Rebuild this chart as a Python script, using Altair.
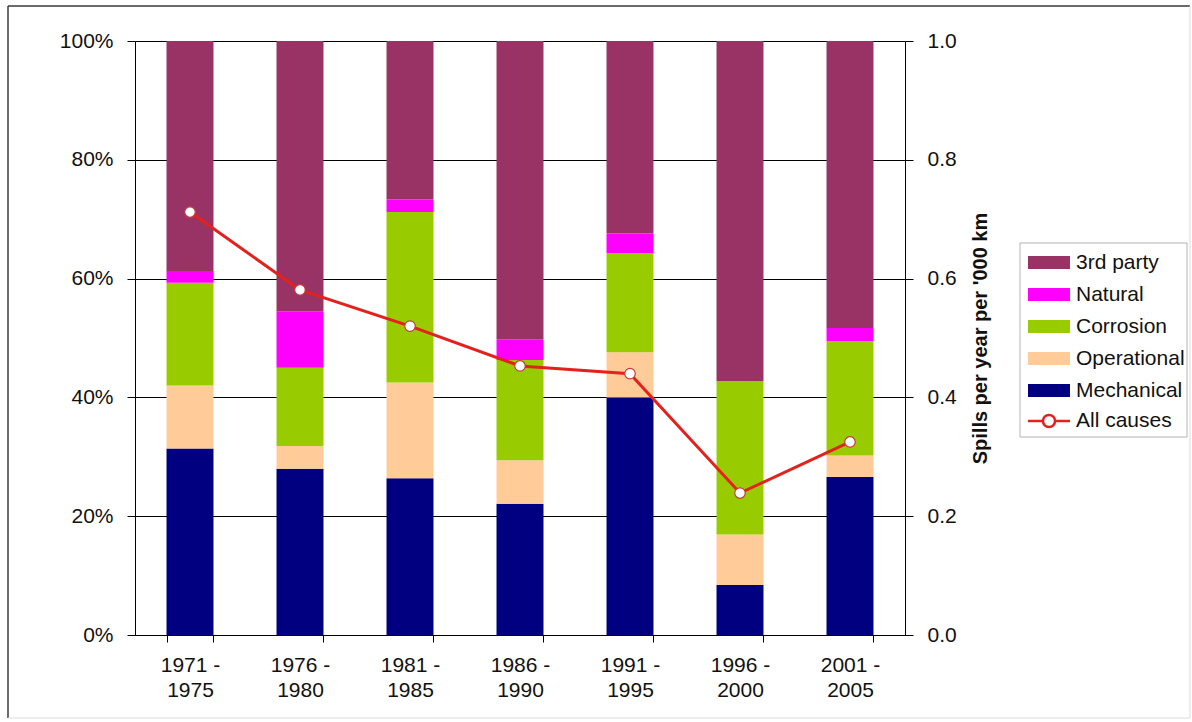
import altair as alt
import pandas as pd

# Five-year periods on the x axis
periods = ["1971 - 1975", "1976 - 1980", "1981 - 1985", "1986 - 1990",
           "1991 - 1995", "1996 - 2000", "2001 - 2005"]

# Spill causes (legend order, top of the stack first) and their colours
causes = ["3rd party", "Natural", "Corrosion", "Operational", "Mechanical"]
cause_colors = ["#993366", "#ff00ff", "#99cc00", "#ffcc99", "#000080"]

# Share of spills by cause in each period (%)
mechanical = [31.4, 28.0, 26.4, 22.1, 40.0, 8.4, 26.6]
operational = [10.6, 3.8, 16.1, 7.3, 7.6, 8.5, 3.6]
corrosion = [17.3, 13.2, 28.7, 16.9, 16.7, 25.8, 19.3]
natural = [2.0, 9.5, 2.1, 3.5, 3.3, 0.0, 2.2]
third_party = [38.7, 45.5, 26.7, 50.2, 32.4, 57.3, 48.3]

# Spill frequency for all causes (spills per year per '000 km)
all_causes = [0.712, 0.581, 0.520, 0.453, 0.440, 0.239, 0.325]

pct_ticks = [0, 20, 40, 60, 80, 100]
rate_ticks = [0.0, 0.2, 0.4, 0.6, 0.8, 1.0]

FONT = "Liberation Sans"
TEXT = "#111111"
RED = "#e3211d"

shares = {
    "Mechanical": mechanical,
    "Operational": operational,
    "Corrosion": corrosion,
    "Natural": natural,
    "3rd party": third_party,
}
stack_pos = {name: i for i, name in enumerate(["Mechanical", "Operational", "Corrosion", "Natural", "3rd party"])}

rows = []
for cause, vals in shares.items():
    for p, v in zip(periods, vals):
        rows.append({"period": p, "cause": cause, "share": v, "stack_pos": stack_pos[cause]})
bar_df = pd.DataFrame(rows)

line_df = pd.DataFrame({"period": periods, "rate": all_causes, "series": "All causes"})
one = pd.DataFrame({"k": [0]})

# Legend swatches: wide rectangle, and a line with an open circle
RECT_PATH = "M-1,-1L5.46,-1L5.46,1L-1,1Z"
LINE_PATH = ("M-1,0L1.3,0M3.16,0L5.46,0"
             "M3.16,0A0.93,0.93 0 1 1 1.3,0A0.93,0.93 0 1 1 3.16,0Z")

x_enc = alt.X(
    "period:N",
    scale=alt.Scale(domain=periods, paddingInner=0.573, paddingOuter=0.2865),
    axis=alt.Axis(
        title=None, labelAngle=0, tickBand="extent",
        labelExpr=("indexof(datum.label || '', ' - ') > 0 ? "
                   "[split(datum.label, ' - ')[0] + ' -', split(datum.label, ' - ')[1]] : ''"),
        labelFontSize=21, labelLineHeight=25, labelPadding=12, tickSize=7,
        domainColor="black", tickColor="black", labelColor=TEXT, labelFont=FONT,
    ),
)

# Outer frame of the figure
frame_dark = alt.Chart(one).mark_rule(color="#3a3a3a", strokeWidth=1.5)
frame_left = frame_dark.encode(x=alt.value(-127), y=alt.value(-35), y2=alt.value(677))
frame_top = frame_dark.encode(x=alt.value(-127), x2=alt.value(1055), y=alt.value(-35))
frame_light = alt.Chart(one).mark_rule(color="#dcdcdc", strokeWidth=1)
frame_right = frame_light.encode(x=alt.value(1055), y=alt.value(-35), y2=alt.value(677))
frame_bottom = frame_light.encode(x=alt.value(-127), x2=alt.value(1055), y=alt.value(677))

# Box behind the legend entries
legend_box = alt.Chart(one).mark_rect(fill="white", stroke="#b4b4b4", strokeWidth=1).encode(
    x=alt.value(885), x2=alt.value(1052), y=alt.value(202), y2=alt.value(396)
)

bars = alt.Chart(bar_df).mark_bar().encode(
    x=x_enc,
    y=alt.Y(
        "share:Q", stack="zero",
        scale=alt.Scale(domain=[0, 100], nice=False),
        axis=alt.Axis(
            title=None, values=pct_ticks, labelExpr="datum.value + '%'",
            grid=True, gridColor="black", gridWidth=1, gridOpacity=1,
            tickSize=8, labelPadding=14, labelFontSize=21, labelFont=FONT,
            labelColor=TEXT, domainColor="black", tickColor="black",
            labelFlush=False,
        ),
    ),
    color=alt.Color(
        "cause:N",
        scale=alt.Scale(domain=causes, range=cause_colors),
        legend=alt.Legend(
            title=None, orient="none", legendX=889, legendY=211,
            symbolType=RECT_PATH, symbolSize=169, symbolStrokeWidth=0,
            labelOffset=31, labelFontSize=21, labelFont=FONT, labelColor=TEXT,
            rowPadding=10, padding=0,
        ),
    ),
    order=alt.Order("stack_pos:Q", sort="ascending"),
)

rate_y = alt.Y(
    "rate:Q",
    scale=alt.Scale(domain=[0, 1], nice=False),
    axis=alt.Axis(
        orient="right", values=rate_ticks, format=".1f",
        title="Spills per year per '000 km",
        titleFont=FONT, titleFontSize=20, titleFontWeight="bold", titleColor=TEXT,
        titleAngle=270, titleX=75, titleY=297, titleAlign="center", titleBaseline="middle",
        tickSize=8, labelPadding=14, labelFontSize=21, labelFont=FONT,
        labelColor=TEXT, domainColor="black", tickColor="black", grid=False,
        labelFlush=False,
    ),
)

line = alt.Chart(line_df).mark_line(strokeWidth=3).encode(
    x=x_enc,
    y=rate_y,
    stroke=alt.Stroke(
        "series:N",
        scale=alt.Scale(domain=["All causes"], range=[RED]),
        legend=alt.Legend(
            title=None, orient="none", legendX=889, legendY=369.5,
            symbolType=LINE_PATH, symbolSize=169, symbolStrokeWidth=2.5,
            symbolFillColor="white",
            labelOffset=31, labelFontSize=21, labelFont=FONT, labelColor=TEXT,
            padding=0,
        ),
    ),
)

points = alt.Chart(line_df).mark_circle(
    size=110, color="white", opacity=1, stroke="#c83a3a", strokeWidth=1.2
).encode(x=x_enc, y=rate_y)

chart = alt.layer(
    frame_left, frame_top, frame_right, frame_bottom, legend_box,
    bars,
    alt.layer(line, points),
).resolve_scale(y="independent").properties(
    width=770, height=594,
    autosize=alt.AutoSizeParams(type="none"),
    padding={"left": 135, "top": 41, "right": 287, "bottom": 87},
    background="white",
).configure_view(stroke=None)

chart.save("out.html", embed_options={"renderer": "svg", "actions": False})
